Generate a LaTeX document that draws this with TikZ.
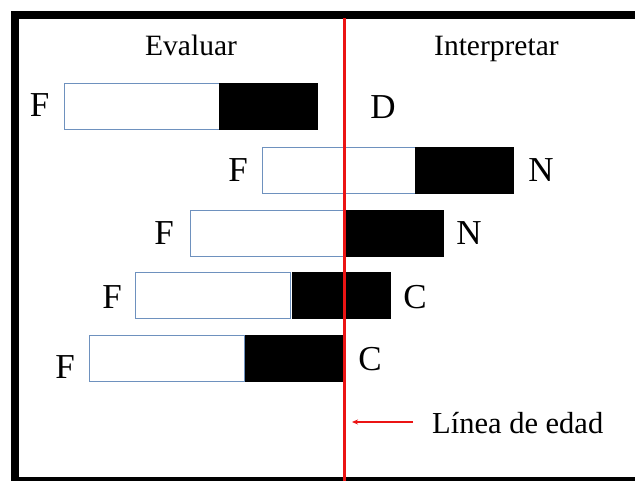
\documentclass[tikz,border=0pt]{standalone}
\usepackage{fontspec}
\setmainfont{Liberation Serif}
\usetikzlibrary{arrows.meta}
\definecolor{barline}{RGB}{110,145,190}
\definecolor{agered}{RGB}{235,20,20}
\tikzset{
  whitebar/.style={draw=barline, line width=1pt, fill=white, minimum width=155pt, minimum height=46pt, inner sep=0pt, anchor=north west},
  blackbar/.style={draw=black, fill=black, minimum width=98pt, minimum height=46pt, inner sep=0pt, anchor=north west},
  letter/.style={font=\fontsize{35}{40}\selectfont, inner sep=0pt},
  label/.style={font=\fontsize{29.5}{34}\selectfont, inner sep=0pt, anchor=base west},
}
\begin{document}
\begin{tikzpicture}[x=1pt,y=-1pt]
\clip (0,0) rectangle (635,481);
\fill[white] (0,0) rectangle (635,481);
\draw[line width=7.5pt] (15,14.8) rectangle (680,480.5);

\node[label] (ev) at (145,55.7) {Evaluar};
\node[label] (in) at (434,55.7) {Interpretar};

% row 1
\node[whitebar] (w1) at (64,83) {};
\node[blackbar] (b1) at (219,83) {};
\node[letter] (f1) at (39.5,105) {F};
\node[letter] (d1) at (383,107) {D};
% row 2
\node[whitebar] (w2) at (262,147) {};
\node[blackbar] (b2) at (415,147) {};
\node[letter] (f2) at (238,170) {F};
\node[letter] (n2) at (541,170) {N};
% row 3
\node[whitebar] (w3) at (190,210) {};
\node[blackbar] (b3) at (345,210) {};
\node[letter] (f3) at (164,233) {F};
\node[letter] (n3) at (469,233) {N};
% row 4
\node[whitebar] (w4) at (135,272) {};
\node[blackbar] (b4) at (292,272) {};
\node[letter] (f4) at (112,297) {F};
\node[letter] (c4) at (415,297) {C};
% row 5
\node[whitebar] (w5) at (89,335) {};
\node[blackbar] (b5) at (245,335) {};
\node[letter] (f5) at (65,367) {F};
\node[letter] (c5) at (370,359) {C};

% age line
\coordinate (top) at (344.3,18);
\coordinate (bot) at (344.3,481);
\draw[agered, line width=2.6pt] (top) -- (bot);
\node[label, font=\fontsize{30.5}{35}\selectfont] (le) at (432,433) {Línea de edad};
\coordinate (as) at (413,422);
\coordinate (ae) at (352,422);
\draw[agered, line width=1.4pt, -{Stealth[length=6pt,width=5pt]}] (as) -- (ae);
\end{tikzpicture}
\end{document}
